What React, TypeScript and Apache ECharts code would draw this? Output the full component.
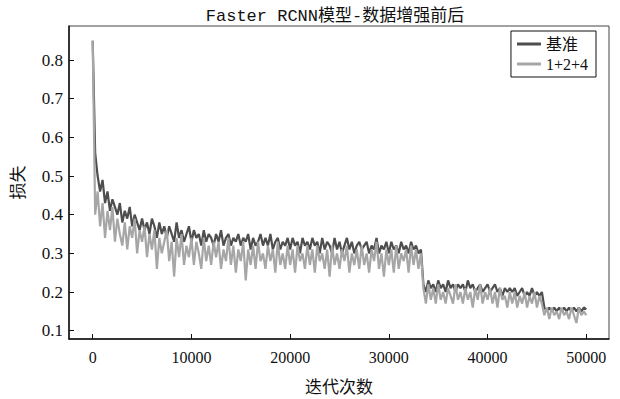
import React, { useEffect, useRef } from "react";
import * as echarts from "echarts";

const STEP = 250;

const baseLoss: number[] = [
  0.85, 0.56, 0.50, 0.46, 0.49, 0.43, 0.46, 0.41, 0.44, 0.42,
  0.40, 0.43, 0.38, 0.41, 0.39, 0.42, 0.37, 0.40, 0.38, 0.36,
  0.39, 0.36, 0.38, 0.35, 0.39, 0.37, 0.34, 0.38, 0.35, 0.37,
  0.34, 0.37, 0.35, 0.33, 0.38, 0.34, 0.36, 0.33, 0.35, 0.37,
  0.33, 0.36, 0.34, 0.35, 0.32, 0.36, 0.33, 0.35, 0.34, 0.32,
  0.35, 0.33, 0.36, 0.32, 0.34, 0.35, 0.32, 0.34, 0.33, 0.35,
  0.32, 0.34, 0.33, 0.35, 0.31, 0.34, 0.32, 0.33, 0.35, 0.32,
  0.34, 0.32, 0.35, 0.31, 0.33, 0.34, 0.31, 0.33, 0.32, 0.34,
  0.31, 0.34, 0.32, 0.33, 0.30, 0.34, 0.32, 0.33, 0.31, 0.34,
  0.32, 0.33, 0.30, 0.34, 0.31, 0.33, 0.32, 0.30, 0.34, 0.31,
  0.33, 0.30, 0.32, 0.34, 0.31, 0.33, 0.30, 0.32, 0.33, 0.31,
  0.32, 0.33, 0.30, 0.32, 0.31, 0.34, 0.30, 0.32, 0.31, 0.33,
  0.30, 0.33, 0.31, 0.32, 0.30, 0.33, 0.31, 0.32, 0.30, 0.33,
  0.31, 0.32, 0.30, 0.31, 0.22, 0.20, 0.23, 0.21, 0.22, 0.20,
  0.23, 0.21, 0.22, 0.20, 0.23, 0.21, 0.22, 0.20, 0.22, 0.21,
  0.22, 0.20, 0.23, 0.21, 0.22, 0.20, 0.21, 0.22, 0.20, 0.21,
  0.22, 0.20, 0.21, 0.22, 0.20, 0.21, 0.19, 0.21, 0.20, 0.21,
  0.20, 0.21, 0.19, 0.20, 0.21, 0.19, 0.20, 0.19, 0.21, 0.19,
  0.20, 0.19, 0.20, 0.16, 0.15, 0.16, 0.15, 0.16, 0.15, 0.16,
  0.15, 0.16, 0.15, 0.16, 0.15, 0.16, 0.15, 0.16, 0.15, 0.16,
  0.155,
];

const augLoss: number[] = [
  0.85, 0.40, 0.46, 0.37, 0.43, 0.34, 0.41, 0.36, 0.42, 0.33,
  0.39, 0.35, 0.32, 0.38, 0.31, 0.37, 0.34, 0.39, 0.30, 0.36,
  0.33, 0.37, 0.29, 0.35, 0.31, 0.36, 0.26, 0.34, 0.30, 0.33,
  0.36, 0.28, 0.33, 0.24, 0.34, 0.29, 0.35, 0.27, 0.32, 0.29,
  0.34, 0.27, 0.33, 0.30, 0.26, 0.34, 0.28, 0.32, 0.27, 0.33,
  0.29, 0.33, 0.26, 0.31, 0.28, 0.34, 0.27, 0.32, 0.25, 0.31,
  0.28, 0.33, 0.23, 0.31, 0.27, 0.32, 0.26, 0.33, 0.28, 0.30,
  0.26, 0.32, 0.28, 0.31, 0.25, 0.33, 0.27, 0.30, 0.26, 0.32,
  0.27, 0.31, 0.25, 0.32, 0.28, 0.30, 0.26, 0.32, 0.27, 0.31,
  0.25, 0.32, 0.28, 0.30, 0.26, 0.31, 0.24, 0.32, 0.27, 0.30,
  0.26, 0.31, 0.28, 0.32, 0.25, 0.30, 0.27, 0.31, 0.26, 0.32,
  0.27, 0.30, 0.25, 0.31, 0.28, 0.33, 0.26, 0.30, 0.24, 0.31,
  0.27, 0.31, 0.25, 0.32, 0.26, 0.30, 0.28, 0.31, 0.25, 0.32,
  0.27, 0.31, 0.26, 0.30, 0.21, 0.17, 0.22, 0.18, 0.21, 0.17,
  0.22, 0.18, 0.20, 0.17, 0.21, 0.19, 0.17, 0.22, 0.18, 0.20,
  0.17, 0.21, 0.18, 0.20, 0.16, 0.21, 0.18, 0.22, 0.17, 0.20,
  0.18, 0.21, 0.17, 0.20, 0.16, 0.21, 0.18, 0.19, 0.16, 0.20,
  0.17, 0.20, 0.16, 0.19, 0.17, 0.20, 0.16, 0.19, 0.17, 0.20,
  0.16, 0.19, 0.17, 0.14, 0.16, 0.13, 0.16, 0.14, 0.15, 0.13,
  0.16, 0.14, 0.15, 0.13, 0.16, 0.14, 0.12, 0.16, 0.14, 0.15,
  0.14,
];

const xTicks = [0, 10000, 20000, 30000, 40000, 50000];
const yTicks = [0.1, 0.2, 0.3, 0.4, 0.5, 0.6, 0.7, 0.8];
const seriesNames = ["基准", "1+2+4"];

const SERIF = "'Liberation Serif', 'Noto Sans CJK SC', serif";
const CJK = "'Noto Sans CJK SC', sans-serif";

export default function App() {
  const ref = useRef<HTMLDivElement>(null);
  useEffect(() => {
    if (!ref.current) return;
    const chart = echarts.init(ref.current, null, { renderer: "svg" });
    const toPairs = (arr: number[]) => arr.map((v, i) => [i * STEP, v]);
    chart.setOption({
      animation: false,
      backgroundColor: "#fff",
      title: {
        text: "Faster RCNN模型-数据增强前后",
        left: 330,
        textAlign: "center",
        top: 3,
        textStyle: {
          fontFamily: "'Liberation Mono', 'Noto Sans CJK SC', monospace",
          fontSize: 17,
          fontWeight: "normal",
          color: "#111",
        },
      },
      legend: {
        orient: "vertical",
        right: 24,
        top: 31,
        padding: [5, 8, 5, 6],
        itemGap: 4,
        itemWidth: 24,
        itemHeight: 3,
        icon: "rect",
        borderColor: "#111",
        borderWidth: 1,
        backgroundColor: "#fff",
        data: seriesNames,
        textStyle: { fontFamily: SERIF, fontSize: 16, color: "#111" },
      },
      grid: {
        left: 66,
        right: 11,
        top: 26,
        bottom: 60,
        show: true,
        borderColor: "#444",
        borderWidth: 1,
      },
      xAxis: {
        type: "value",
        min: -2400,
        max: 52300,
        name: "迭代次数",
        nameLocation: "middle",
        nameGap: 38,
        nameTextStyle: { fontFamily: CJK, fontSize: 17, color: "#111" },
        axisLine: { onZero: false, lineStyle: { color: "#111", width: 1.5 } },
        axisTick: { inside: true, length: 5, customValues: xTicks, lineStyle: { color: "#111" } },
        axisLabel: {
          customValues: xTicks,
          margin: 10,
          fontFamily: SERIF,
          fontSize: 16,
          color: "#111",
          formatter: (v: number) => String(v),
        },
        splitLine: { show: false },
      },
      yAxis: {
        type: "value",
        min: 0.0785,
        max: 0.888,
        name: "损失",
        nameLocation: "middle",
        nameGap: 44,
        nameRotate: 90,
        nameTextStyle: { fontFamily: CJK, fontSize: 17, color: "#111" },
        axisLine: { show: true, onZero: false, lineStyle: { color: "#111", width: 1.5 } },
        axisTick: { show: true, inside: true, length: 5, customValues: yTicks, lineStyle: { color: "#111" } },
        axisLabel: {
          customValues: yTicks,
          margin: 6,
          fontFamily: SERIF,
          fontSize: 17,
          color: "#111",
          formatter: (v: number) => v.toFixed(1),
        },
        splitLine: { show: false },
      },
      series: [
        {
          name: seriesNames[0],
          type: "line",
          data: toPairs(baseLoss),
          showSymbol: false,
          lineStyle: { color: "#4e4e4e", width: 2.2 },
          itemStyle: { color: "#4e4e4e" },
        },
        {
          name: seriesNames[1],
          type: "line",
          data: toPairs(augLoss),
          showSymbol: false,
          lineStyle: { color: "#a6a6a6", width: 2.2 },
          itemStyle: { color: "#a6a6a6" },
        },
      ],
    });
    return () => chart.dispose();
  }, []);
  return (
    <div
      ref={ref}
      style={{ position: "absolute", left: 0, top: 0, width: 620, height: 399 }}
    />
  );
}
